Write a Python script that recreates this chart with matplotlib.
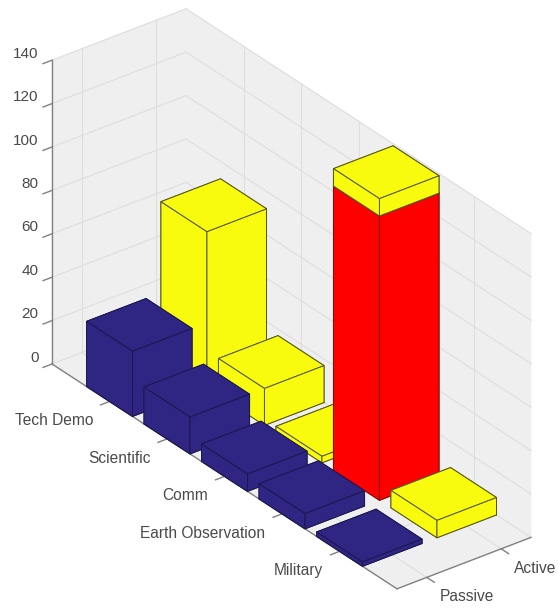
import matplotlib
matplotlib.use("Agg")
import matplotlib.pyplot as plt
from mpl_toolkits.mplot3d import proj3d
from mpl_toolkits.mplot3d.art3d import Poly3DCollection

plt.rcParams['font.family'] = ['Liberation Sans', 'DejaVu Sans']

# data
categories = ["Tech Demo", "Scientific", "Comm", "Earth Observation", "Military"]
rows = ["Passive", "Active"]
passive = [30, 17, 8, 7, 2]
active_red = [0, 0, 0, 131, 0]
active_yellow = [72, 17, 3, 8, 8]
z_ticks = [0, 20, 40, 60, 80, 100, 120, 140]

blue = "#2f2583"
yellow = "#f9fb0e"
red = "#ff0000"
wall = "#efefef"
grid_c = "#dedede"
axis_c = "#808080"
text_c = "#4a4a4a"

xmin, xmax = 0, 6
ymin, ymax = 0.6, 2.4
zmin, zmax = 0, 140

fig = plt.figure(figsize=(5.58, 6.11), dpi=100)
ax = fig.add_axes([0, 0, 1, 1], projection='3d')
ax.set_proj_type('ortho')
ax.view_init(elev=30, azim=-37.5)
ax.set_box_aspect((567, 169, 351))
ax.set_xlim(xmin, xmax, view_margin=0)
ax.set_ylim(ymin, ymax, view_margin=0)
ax.set_zlim(zmin, zmax, view_margin=0)
ax.set_xticks([])
ax.set_yticks([])
ax.set_zticks([])
ax.set_axis_off()
ax.computed_zorder = False
ax.patch.set_alpha(0)


def to_pixels(x, y, z):
    px, py, _ = proj3d.proj_transform(x, y, z, ax.get_proj())
    return ax.transData.transform((px, py))


# fit the box onto the frame of the reference (left corner and bottom corner)
fig.canvas.draw()
a = to_pixels(xmin, ymin, zmin)
b = to_pixels(xmax, ymin, zmin)
scale = 345.0 / (b[0] - a[0])
pos = ax.get_position(original=True)
w = pos.width * scale
h = pos.height * scale
ax.set_position([pos.x0, pos.y0, w, h])
fig.canvas.draw()
a = to_pixels(xmin, ymin, zmin)
ax.set_position([pos.x0 + (52 - a[0]) / 558.0, pos.y0 + ((611 - 364) - a[1]) / 611.0, w, h])
fig.canvas.draw()


def label(x, y, z, s, ha, size):
    # plain figure text placed at the projected point
    p = to_pixels(x, y, z)
    fig.text(p[0] / 558.0, p[1] / 611.0, s, ha=ha, va='center', fontsize=size, color=text_c)


# walls and floor
walls = [
    [(xmin, ymin, zmin), (xmin, ymax, zmin), (xmin, ymax, zmax), (xmin, ymin, zmax)],
    [(xmin, ymax, zmin), (xmax, ymax, zmin), (xmax, ymax, zmax), (xmin, ymax, zmax)],
    [(xmin, ymin, zmin), (xmax, ymin, zmin), (xmax, ymax, zmin), (xmin, ymax, zmin)],
]
ax.add_collection3d(Poly3DCollection(walls, facecolors=wall, edgecolors=wall, linewidths=0.5, zorder=1))

# grid
gl = dict(color=grid_c, lw=0.8, zorder=2, clip_on=False)
for z in z_ticks:
    ax.plot([xmin, xmin], [ymin, ymax], [z, z], **gl)
    ax.plot([xmin, xmax], [ymax, ymax], [z, z], **gl)
for i in range(1, len(categories) + 1):
    ax.plot([i, i], [ymin, ymax], [zmin, zmin], **gl)
    ax.plot([i, i], [ymax, ymax], [zmin, zmax], **gl)
for j in range(1, len(rows) + 1):
    ax.plot([xmin, xmax], [j, j], [zmin, zmin], **gl)
    ax.plot([xmin, xmin], [j, j], [zmin, zmax], **gl)

# axes lines and ticks
al = dict(color=axis_c, lw=1.0, zorder=3, clip_on=False)
ax.plot([xmin, xmin], [ymin, ymin], [zmin, zmax], **al)
ax.plot([xmin, xmax], [ymin, ymin], [zmin, zmin], **al)
ax.plot([xmax, xmax], [ymin, ymax], [zmin, zmin], **al)
for z in z_ticks:
    ax.plot([xmin, xmin], [ymin, ymin - 0.12], [z, z], **al)
    label(xmin, ymin - 0.18, z + 5.3, str(z), 'right', 11)
for i, name in enumerate(categories):
    ax.plot([i + 1, i + 1], [ymin, ymin - 0.12], [zmin, zmin], **al)
    label(i + 1, ymin - 0.22, -6, name, 'right', 11.2)
for j, name in enumerate(rows):
    ax.plot([xmax, xmax + 0.13], [j + 1, j + 1], [zmin, zmin], **al)
    label(xmax + 0.23, j + 1, -5, name, 'left', 11.2)


def bar(x, y, bottom, height, color, edge, order):
    if height <= 0:
        return
    ax.bar3d(x - 0.4, y - 0.4, bottom, 0.8, 0.8, height, color=color, shade=False,
             edgecolor=edge, linewidth=0.7, zorder=order)


# back row first, then the front one
order = 10
for i in range(len(categories)):
    bar(i + 1, 2, 0, active_red[i], red, "#7a1010", order)
    bar(i + 1, 2, active_red[i], active_yellow[i], yellow, "#55551a", order + 1)
    order += 2
for i in range(len(categories)):
    bar(i + 1, 1, 0, passive[i], blue, "#1d1850", order)
    order += 1

fig.savefig("out.png", dpi=100)
